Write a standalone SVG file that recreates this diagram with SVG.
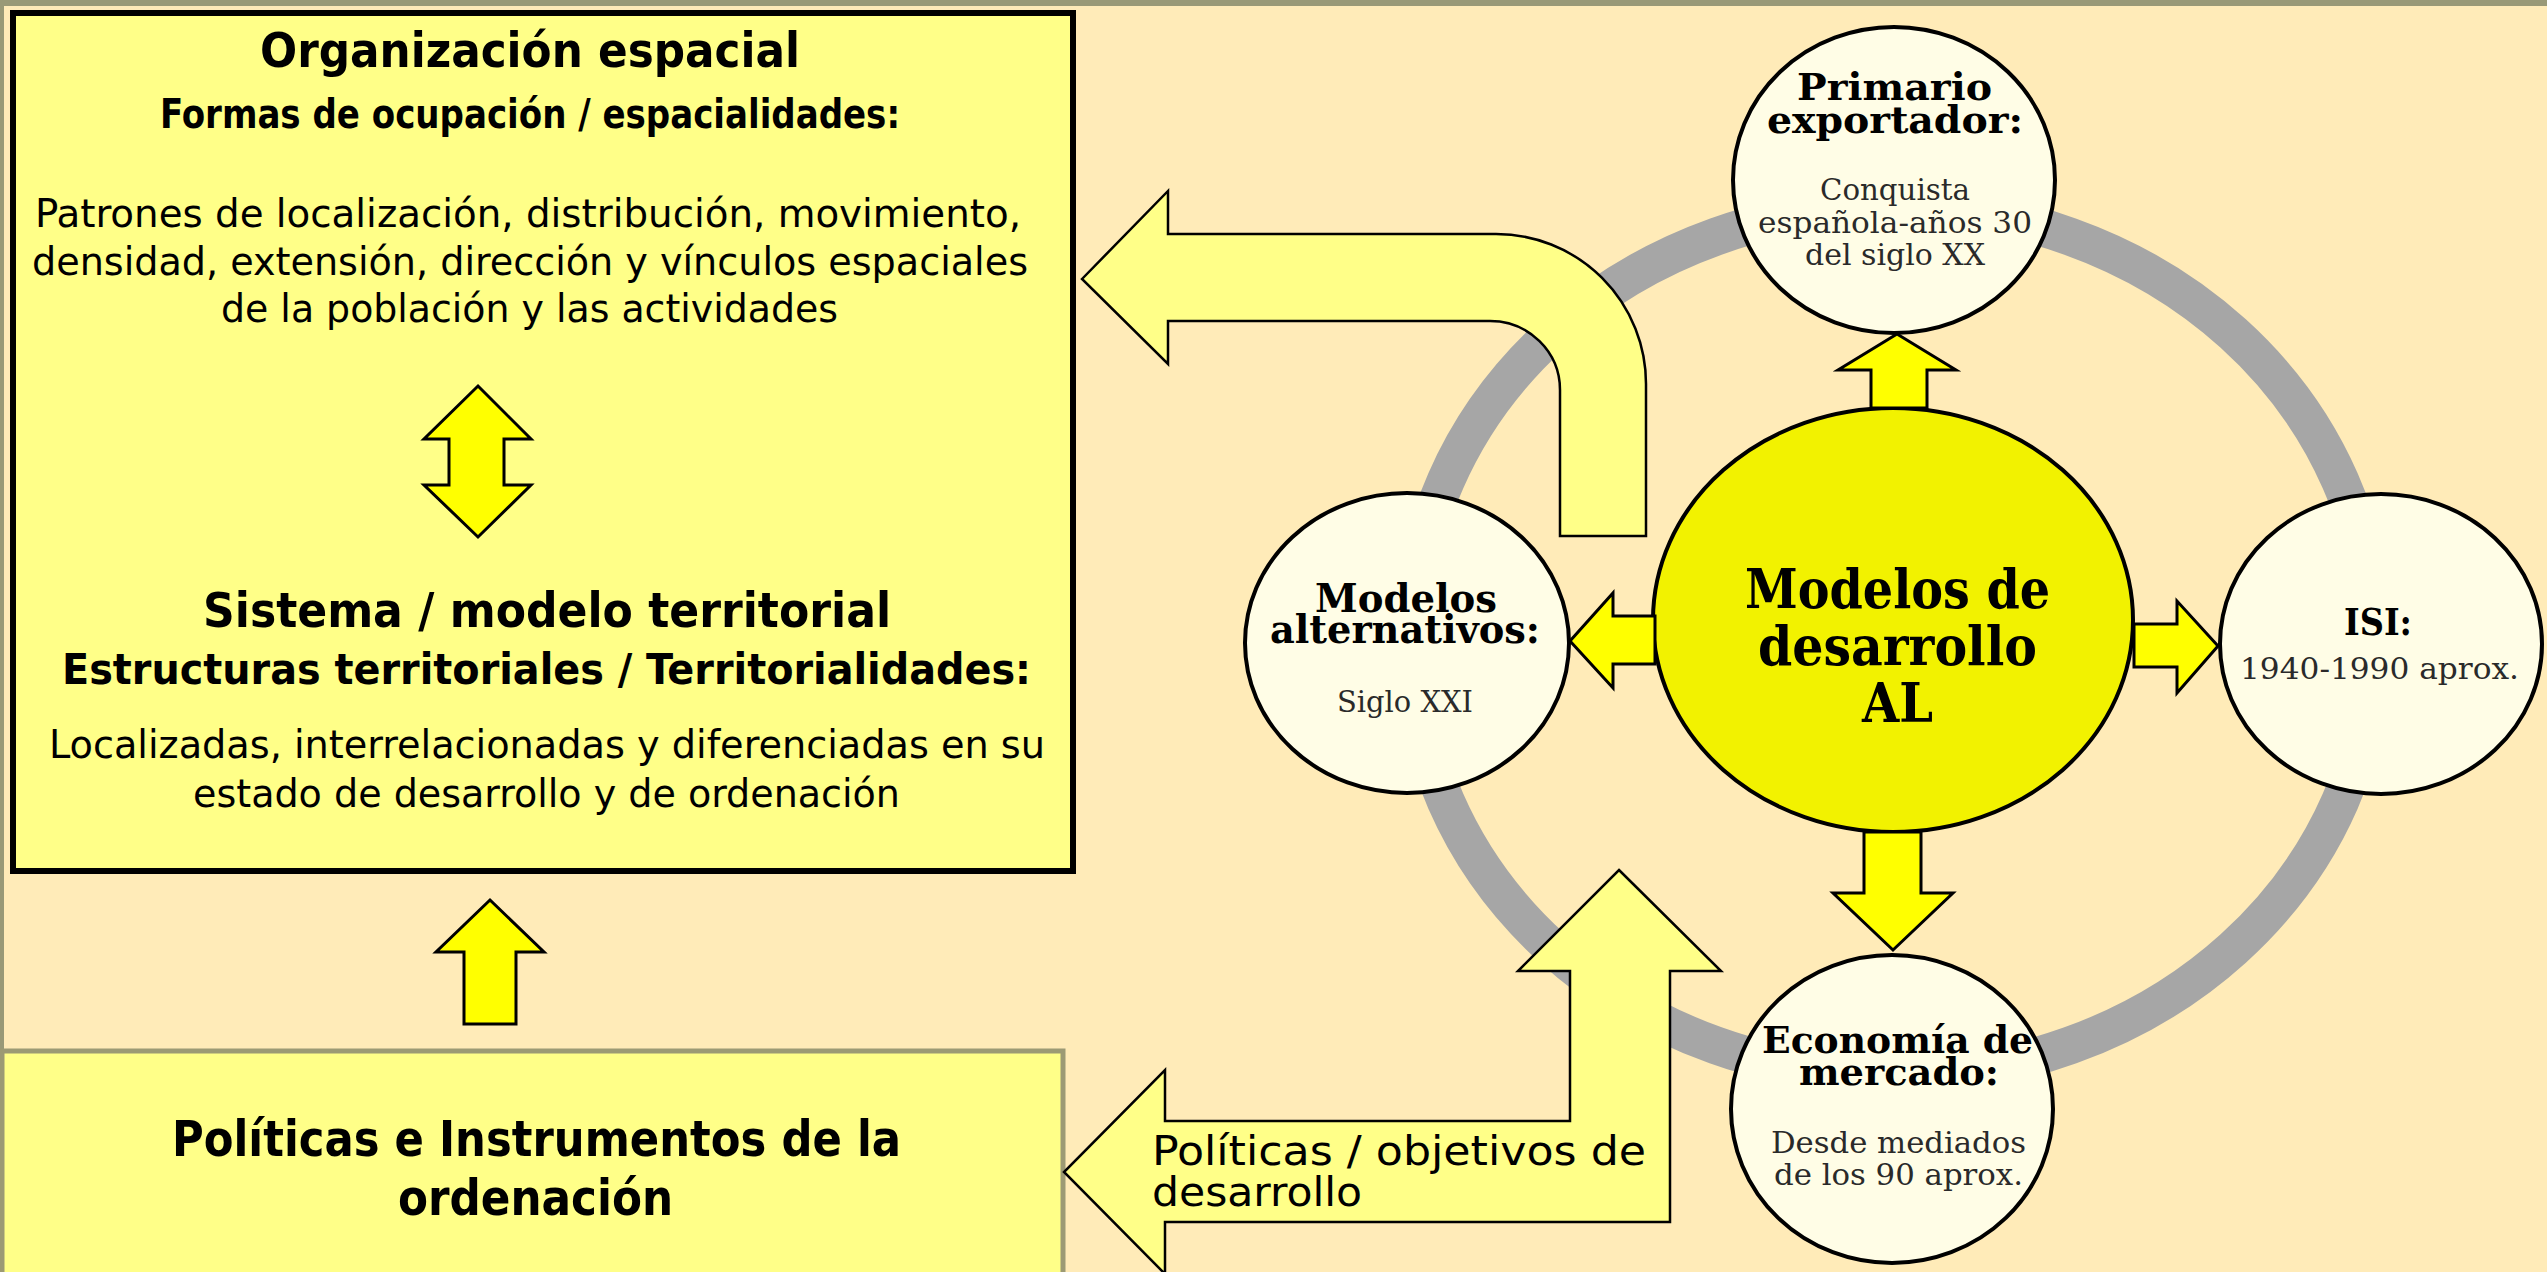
<svg xmlns="http://www.w3.org/2000/svg" width="2547" height="1272" viewBox="0 0 2547 1272">
<style>
.sans{font-family:"DejaVu Sans Condensed","DejaVu Sans",sans-serif;font-stretch:condensed;fill:#000}
.b{font-weight:bold}
.serif{font-family:"DejaVu Serif Condensed","DejaVu Serif",serif;font-stretch:condensed;fill:#000}
.sub{fill:#2a2a2a}
.box{fill:#FFFF88;stroke:#000;stroke-width:6}
.box2{fill:#FFFF88;stroke:#9C9A74;stroke-width:5}
.node{fill:#FFFDE6;stroke:#000;stroke-width:4}
.core{fill:#F2F200;stroke:#000;stroke-width:4}
.arrY{fill:#FFFF00;stroke:#000;stroke-width:3;stroke-linejoin:miter}
.arrL{fill:#FFFF88;stroke:#000;stroke-width:2.5;stroke-linejoin:miter}
</style>
<rect x="0" y="0" width="2547" height="1272" fill="#FFEBB8"/>
<rect x="0" y="0" width="2547" height="6" fill="#999977"/>
<rect x="0" y="0" width="4" height="1272" fill="#999977"/>

<ellipse id="ring" cx="1893" cy="641" rx="481" ry="435" fill="none" stroke="#A6A6A6" stroke-width="38"/>

<g id="box-organizacion">
<rect class="box" x="13" y="13" width="1060" height="858"/>
<text class="sans b" x="260" y="67" font-size="48" textLength="540" lengthAdjust="spacingAndGlyphs">Organización espacial</text>
<text class="sans b" x="160" y="128" font-size="40" textLength="740" lengthAdjust="spacingAndGlyphs">Formas de ocupación / espacialidades:</text>
<text class="sans" x="35" y="227" font-size="39" textLength="986" lengthAdjust="spacingAndGlyphs">Patrones de localización, distribución, movimiento,</text>
<text class="sans" x="32" y="275" font-size="39" textLength="996" lengthAdjust="spacingAndGlyphs">densidad, extensión, dirección y vínculos espaciales</text>
<text class="sans" x="221" y="322" font-size="39" textLength="617" lengthAdjust="spacingAndGlyphs">de la población y las actividades</text>
<text class="sans b" x="203" y="627" font-size="48" textLength="688" lengthAdjust="spacingAndGlyphs">Sistema / modelo territorial</text>
<text class="sans b" x="62" y="684" font-size="42" textLength="969" lengthAdjust="spacingAndGlyphs">Estructuras territoriales / Territorialidades:</text>
<text class="sans" x="49" y="758" font-size="39" textLength="996" lengthAdjust="spacingAndGlyphs">Localizadas, interrelacionadas y diferenciadas en su</text>
<text class="sans" x="193" y="807" font-size="39" textLength="707" lengthAdjust="spacingAndGlyphs">estado de desarrollo y de ordenación</text>
</g>

<g id="box-politicas">
<rect class="box2" x="2" y="1051" width="1061" height="240"/>
<text class="sans b" x="172" y="1156" font-size="49" textLength="729" lengthAdjust="spacingAndGlyphs">Políticas e Instrumentos de la</text>
<text class="sans b" x="398" y="1215" font-size="49" textLength="275" lengthAdjust="spacingAndGlyphs">ordenación</text>
</g>

<g id="connectors">
<path class="arrY" d="M478,386 L531,439 L504,439 L504,485 L531,485 L478,537 L424,485 L449,485 L449,439 L424,439 Z"/>
<path class="arrY" d="M490,900 L544,952 L516,952 L516,1024 L464,1024 L464,952 L436,952 Z"/>
<path class="arrL" d="M1082,279 L1168,191 L1168,234 L1496,234 A150,150 0 0 1 1646,384 L1646,536 L1560,536 L1560,390 A70,69 0 0 0 1490,321 L1168,321 L1168,364 Z"/>
<path class="arrL" d="M1619,870 L1721,971 L1670,971 L1670,1222 L1165,1222 L1165,1274 L1064,1172 L1165,1070 L1165,1121 L1570,1121 L1570,971 L1518,971 Z"/>
<text class="sans" x="1152" y="1165" font-size="41" textLength="494" lengthAdjust="spacingAndGlyphs">Políticas / objetivos de</text>
<text class="sans" x="1152" y="1206" font-size="41" textLength="210" lengthAdjust="spacingAndGlyphs">desarrollo</text>
</g>

<g id="node-primario">
<ellipse class="node" cx="1894" cy="180" rx="161" ry="153"/>
<text class="serif b" x="1797" y="100" font-size="38" textLength="195" lengthAdjust="spacingAndGlyphs">Primario</text>
<text class="serif b" x="1767" y="133" font-size="38" textLength="256" lengthAdjust="spacingAndGlyphs">exportador:</text>
<text class="serif sub" x="1820" y="200" font-size="30" textLength="150" lengthAdjust="spacingAndGlyphs">Conquista</text>
<text class="serif sub" x="1758" y="233" font-size="30" textLength="274" lengthAdjust="spacingAndGlyphs">española-años 30</text>
<text class="serif sub" x="1805" y="265" font-size="30" textLength="180" lengthAdjust="spacingAndGlyphs">del siglo XX</text>
</g>

<g id="node-alternativos">
<ellipse class="node" cx="1407" cy="643" rx="162" ry="150"/>
<text class="serif b" x="1315" y="612" font-size="40" textLength="182" lengthAdjust="spacingAndGlyphs">Modelos</text>
<text class="serif b" x="1270" y="643" font-size="40" textLength="270" lengthAdjust="spacingAndGlyphs">alternativos:</text>
<text class="serif sub" x="1337" y="712" font-size="30" textLength="136" lengthAdjust="spacingAndGlyphs">Siglo XXI</text>
</g>

<g id="node-isi">
<ellipse class="node" cx="2381" cy="644" rx="161" ry="150"/>
<text class="serif b" x="2344" y="635" font-size="37" textLength="68" lengthAdjust="spacingAndGlyphs">ISI:</text>
<text class="serif sub" x="2240" y="679" font-size="30" textLength="279" lengthAdjust="spacingAndGlyphs">1940-1990 aprox.</text>
</g>

<g id="node-mercado">
<ellipse class="node" cx="1892" cy="1109" rx="161" ry="154"/>
<text class="serif b" x="1762" y="1053" font-size="38" textLength="271" lengthAdjust="spacingAndGlyphs">Economía de</text>
<text class="serif b" x="1799" y="1085" font-size="38" textLength="200" lengthAdjust="spacingAndGlyphs">mercado:</text>
<text class="serif sub" x="1771" y="1153" font-size="30" textLength="255" lengthAdjust="spacingAndGlyphs">Desde mediados</text>
<text class="serif sub" x="1774" y="1185" font-size="30" textLength="249" lengthAdjust="spacingAndGlyphs">de los 90 aprox.</text>
</g>

<g id="node-centro">
<ellipse class="core" cx="1893" cy="620" rx="240" ry="212"/>
<text class="serif b" x="1745" y="608" font-size="54" textLength="305" lengthAdjust="spacingAndGlyphs">Modelos de</text>
<text class="serif b" x="1758" y="665" font-size="54" textLength="279" lengthAdjust="spacingAndGlyphs">desarrollo</text>
<text class="serif b" x="1862" y="722" font-size="54" textLength="71" lengthAdjust="spacingAndGlyphs">AL</text>
</g>

<g id="connectors-center">
<path class="arrY" d="M1897,334 L1956,370 L1927,370 L1927,408 L1871,408 L1871,370 L1838,370 Z"/>
<path class="arrY" d="M1893,950 L1953,893 L1921,893 L1921,832 L1864,832 L1864,893 L1833,893 Z"/>
<path class="arrY" d="M1570,641 L1613,593 L1613,616 L1655,616 L1655,664 L1613,664 L1613,688 Z"/>
<path class="arrY" d="M2218,646 L2177,601 L2177,624 L2134,624 L2134,667 L2177,667 L2177,693 Z"/>
</g>
</svg>
